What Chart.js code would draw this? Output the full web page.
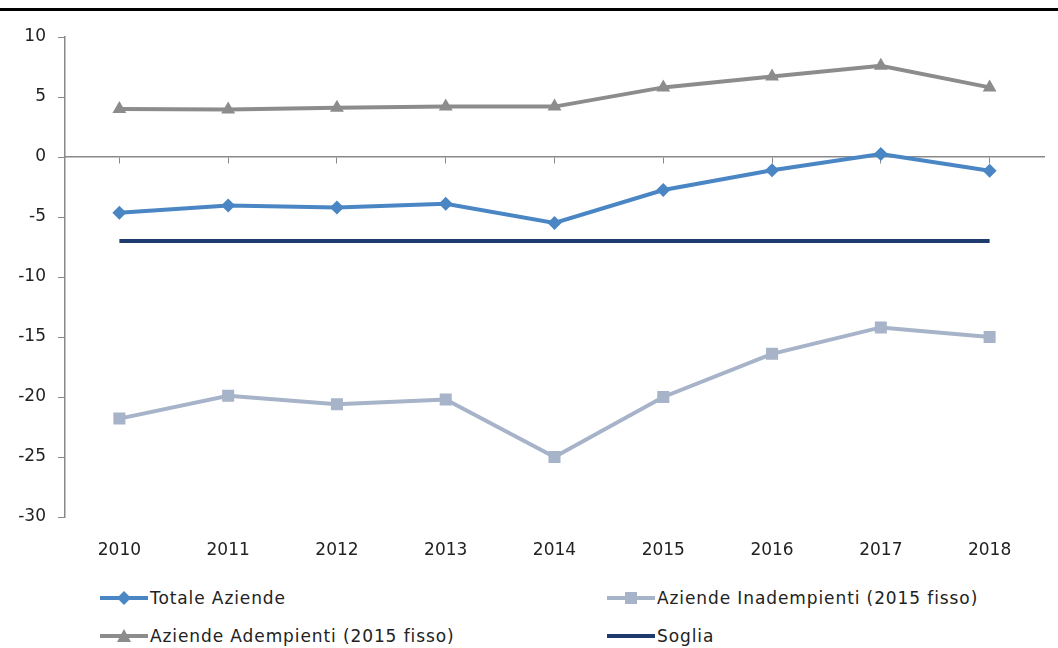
<!DOCTYPE html>
<html>
<head>
<meta charset="utf-8">
<script src="https://cdn.jsdelivr.net/npm/chart.js@4"></script>
<style>
  body { margin: 0; background: #fff; font-family: "DejaVu Sans", sans-serif; }
  #wrap { position: relative; width: 1058px; height: 648px; overflow: hidden; }
  #rule { position: absolute; left: 0; top: 8px; width: 1058px; height: 3px; background: #000; }
  #box { position: absolute; left: 0; top: 0; width: 1058px; height: 575px; }
  .leg { position: absolute; font-size: 17px; letter-spacing: 0.9px; color: #222; height: 20px; line-height: 20px; white-space: nowrap; }
  .leg svg { position: absolute; left: 0; top: 0; }
  .leg span { position: absolute; left: 50px; top: 0; }
</style>
</head>
<body>
<div id="wrap">
  <div id="rule"></div>
  <div id="box"><canvas id="trend"></canvas></div>
  <div class="leg" style="left:100px; top:588px;">
    <svg width="50" height="20"><line x1="0" y1="10" x2="48" y2="10" stroke="#4a86c4" stroke-width="4"/><polygon points="24,3 31,10 24,17 17,10" fill="#4a86c4"/></svg>
    <span>Totale Aziende</span>
  </div>
  <div class="leg" style="left:607px; top:588px;">
    <svg width="50" height="20"><line x1="0" y1="10" x2="48" y2="10" stroke="#a6b3c8" stroke-width="4"/><rect x="18" y="4" width="12" height="12" fill="#a6b3c8"/></svg>
    <span>Aziende Inadempienti (2015 fisso)</span>
  </div>
  <div class="leg" style="left:100px; top:626px;">
    <svg width="50" height="20"><line x1="0" y1="10" x2="48" y2="10" stroke="#8c8c8c" stroke-width="4"/><polygon points="24,3 31,16 17,16" fill="#8c8c8c"/></svg>
    <span>Aziende Adempienti (2015 fisso)</span>
  </div>
  <div class="leg" style="left:607px; top:626px;">
    <svg width="50" height="20"><line x1="0" y1="10" x2="48" y2="10" stroke="#1f3b6e" stroke-width="4"/></svg>
    <span>Soglia</span>
  </div>
</div>
<script>
var years = ['2010', '2011', '2012', '2013', '2014', '2015', '2016', '2017', '2018'];
var totaleAziende = [-4.65, -4.05, -4.2, -3.9, -5.5, -2.75, -1.1, 0.25, -1.15];
var inadempienti = [-21.8, -19.9, -20.6, -20.2, -25.0, -20.0, -16.4, -14.2, -15.0];
var adempienti = [4.0, 3.95, 4.1, 4.2, 4.2, 5.8, 6.7, 7.6, 5.8];
var soglia = [-7, -7, -7, -7, -7, -7, -7, -7, -7];

var seriesNames = ['Totale Aziende', 'Aziende Inadempienti (2015 fisso)', 'Aziende Adempienti (2015 fisso)', 'Soglia'];
var axisFont = { family: 'DejaVu Sans', size: 17 };

const ctxTrend = document.getElementById('trend');

new Chart(ctxTrend, {
    type: 'line',
    data: {
        labels: years,
        datasets: [{
            label: seriesNames[3],
            data: soglia,
            borderColor: '#1f3b6e',
            borderWidth: 4,
            pointRadius: 0,
            order: 4
        }, {
            label: seriesNames[1],
            data: inadempienti,
            borderColor: '#a6b3c8',
            backgroundColor: '#a6b3c8',
            borderWidth: 4,
            pointStyle: 'rect',
            pointRadius: 8.5,
            pointBorderWidth: 0,
            order: 3
        }, {
            label: seriesNames[2],
            data: adempienti,
            borderColor: '#8c8c8c',
            backgroundColor: '#8c8c8c',
            borderWidth: 4,
            pointStyle: 'triangle',
            pointRadius: 8,
            pointBorderWidth: 0,
            order: 2
        }, {
            label: seriesNames[0],
            data: totaleAziende,
            borderColor: '#4a86c4',
            backgroundColor: '#4a86c4',
            borderWidth: 4,
            pointStyle: 'rectRot',
            pointRadius: 7,
            pointBorderWidth: 0,
            order: 1
        }]
    },
    options: {
        responsive: true,
        maintainAspectRatio: false,
        animation: false,
        layout: {
            padding: { left: 0, top: 37, right: 14, bottom: 0 }
        },
        plugins: {
            legend: { display: false },
            tooltip: { enabled: false }
        },
        scales: {
            x: {
                position: 'bottom',
                offset: true,
                grid: { display: false, drawTicks: false },
                border: { display: false },
                ticks: { color: '#222', font: axisFont, padding: 23, maxRotation: 0 },
                afterFit: function(scale) { scale.height = 58; }
            },
            x2: {
                type: 'category',
                position: { y: 0 },
                offset: true,
                grid: { drawOnChartArea: false, color: '#888', tickLength: 6 },
                border: { color: '#888', width: 1.5 },
                ticks: { display: false },
                afterFit: function(scale) { scale.height = 0; }
            },
            y: {
                min: -30,
                max: 10,
                grid: { drawOnChartArea: false, color: '#888', tickLength: 7 },
                border: { color: '#888', width: 1.5 },
                ticks: { stepSize: 5, color: '#222', font: axisFont, padding: 12 },
                afterFit: function(scale) { scale.width = 65; }
            }
        }
    }
});
</script>
</body>
</html>
